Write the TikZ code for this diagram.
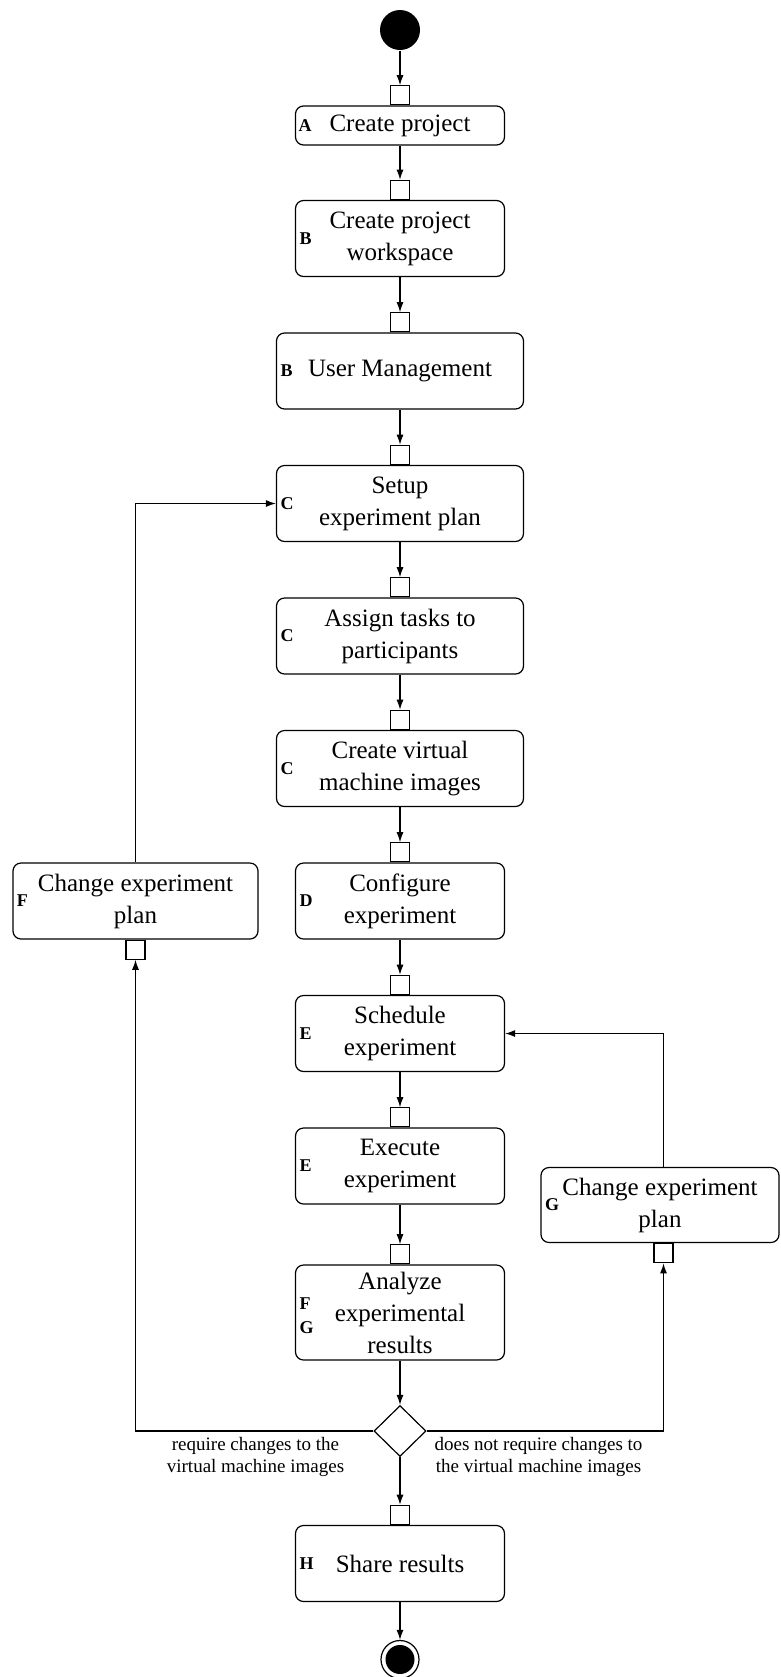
\documentclass[tikz,border=0pt]{standalone}
\usepackage{fontspec}
\setmainfont{Liberation Serif}
\usetikzlibrary{shapes.geometric,arrows.meta}

\tikzset{
  act/.style={draw,rounded corners=4pt,align=center,minimum width=104.5pt,
    minimum height=38pt,inner sep=2pt,font=\fontsize{12.5}{16}\selectfont},
  wideact/.style={act,minimum width=123.5pt},
  pinbox/.style={draw,fill=white,minimum size=9.5pt,inner sep=0pt},
  tag/.style={inner sep=0pt,align=left,font=\fontsize{9}{12}\selectfont\bfseries},
  guard/.style={align=center,inner sep=0pt,font=\fontsize{9.5}{11}\selectfont},
}

\begin{document}
\begin{tikzpicture}[line width=0.6pt,node distance=66.25pt,>={Latex[length=5pt,width=3.5pt]}]
      \useasboundingbox (0,0) rectangle (390.5pt,-838.5pt);
      \node[circle,fill=black,minimum size=20pt,inner sep=0pt] (start) at (200pt,-15pt) {};
      \node[act,minimum height=19.5pt,below of=start,yshift=18.5pt] (A) {Create project};
      \node[act,below of=A,yshift=9.75pt] (B) {Create project\\workspace};
      \node[wideact,below of=B] (um) {User Management};
      \node[wideact,below of=um] (setup) {Setup\\experiment plan};
      \node[wideact,below of=setup] (assign) {Assign tasks to\\participants};
      \node[wideact,below of=assign] (vm) {Create virtual\\machine images};
      \node[act,below of=vm] (conf) {Configure\\experiment};
      \node[act,below of=conf] (sched) {Schedule\\experiment};
      \node[act,below of=sched] (exec) {Execute\\experiment};
      \node[act,minimum height=47.5pt,below of=exec,yshift=-7pt] (anal) {Analyze\\experimental\\results};
      \node[diamond,draw,minimum width=26pt,minimum height=25.5pt,inner sep=0pt,
        below of=anal,yshift=7pt] (dia) {};
      \node[act,below of=dia] (share) {Share results};
      \node[circle,draw,minimum size=19pt,inner sep=0pt,below of=share,yshift=18.25pt,
        path picture={\fill (path picture bounding box.center) circle (7.25pt);}] (fin) {};
      %% change plan boxes
      \node[act,minimum width=122.5pt,left of=conf,xshift=-66pt] (chF) {Change experiment\\plan};
      \node[act,minimum width=119pt,minimum height=37.5pt,right of=exec,xshift=63.75pt,yshift=-19.5pt] (chG) {Change experiment\\plan};
      %% letters
      \node[tag,anchor=west] (tA) at ([xshift=1.5pt]A.west) {A};
      \node[tag,anchor=west] (tB) at ([xshift=2pt]B.west) {B};
      \node[tag,anchor=west] (tum) at ([xshift=2pt]um.west) {B};
      \node[tag,anchor=west] (tsetup) at ([xshift=2pt]setup.west) {C};
      \node[tag,anchor=west] (tassign) at ([xshift=2pt]assign.west) {C};
      \node[tag,anchor=west] (tvm) at ([xshift=2pt]vm.west) {C};
      \node[tag,anchor=west] (tconf) at ([xshift=2pt]conf.west) {D};
      \node[tag,anchor=west] (tsched) at ([xshift=2pt]sched.west) {E};
      \node[tag,anchor=west] (texec) at ([xshift=2pt]exec.west) {E};
      \node[tag,anchor=west] (tanal) at ([xshift=2pt,yshift=-1.5pt]anal.west) {F\\G};
      \node[tag,anchor=west] (tshare) at ([xshift=2pt]share.west) {H};
      \node[tag,anchor=west] (tchF) at ([xshift=2pt]chF.west) {F};
      \node[tag,anchor=west] (tchG) at ([xshift=2pt]chG.west) {G};
      %% pins
      \node[pinbox,anchor=south] (pA) at (A.north) {};
      \node[pinbox,anchor=south] (pB) at (B.north) {};
      \node[pinbox,anchor=south] (pum) at (um.north) {};
      \node[pinbox,anchor=south] (psetup) at (setup.north) {};
      \node[pinbox,anchor=south] (passign) at (assign.north) {};
      \node[pinbox,anchor=south] (pvm) at (vm.north) {};
      \node[pinbox,anchor=south] (pconf) at (conf.north) {};
      \node[pinbox,anchor=south] (psched) at (sched.north) {};
      \node[pinbox,anchor=south] (pexec) at (exec.north) {};
      \node[pinbox,anchor=south] (panal) at (anal.north) {};
      \node[pinbox,anchor=south] (pshare) at (share.north) {};
      \node[pinbox,anchor=north] (pchF) at (chF.south) {};
      \node[pinbox,anchor=north] (pchG) at ([xshift=1.75pt]chG.south) {};
      %% main flow
      \draw[->] (start) -- (pA);
      \draw[->] (A) -- (pB);
      \draw[->] (B) -- (pum);
      \draw[->] (um) -- (psetup);
      \draw[->] (setup) -- (passign);
      \draw[->] (assign) -- (pvm);
      \draw[->] (vm) -- (pconf);
      \draw[->] (conf) -- (psched);
      \draw[->] (sched) -- (pexec);
      \draw[->] (exec) -- (panal);
      \draw[->] (anal) -- (dia);
      \draw[->] (dia) -- (pshare);
      \draw[->] (share) -- (fin);
      %% loops back
      \draw[->] (dia.west) -| (pchF);
      \draw[->] (chF.north) |- (setup.west);
      \draw[->] (dia.east) -| (pchG);
      \draw[->] (pchG |- chG.north) |- (sched.east);
      %% guards
      \node[guard,left of=dia,xshift=-6pt,yshift=-13pt] (lreq) {require changes to the\\virtual machine images};
      \node[guard,right of=dia,xshift=3pt,yshift=-13pt] (lnoreq) {does not require changes to\\the virtual machine images};
\end{tikzpicture}
\end{document}
